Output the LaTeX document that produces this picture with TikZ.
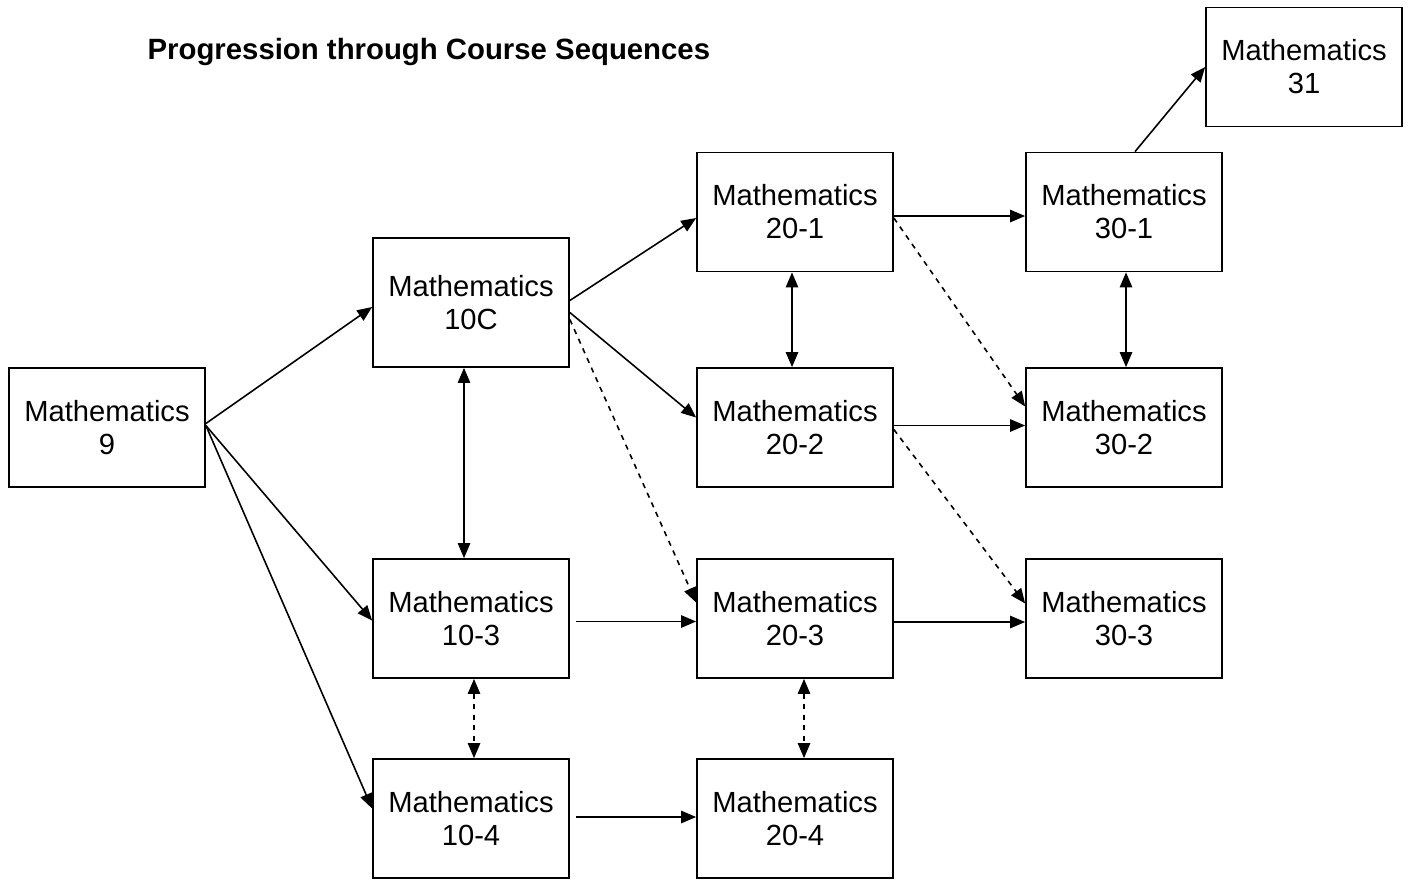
\documentclass[tikz,border=0pt]{standalone}
\usepackage{fontspec}
\setmainfont{Liberation Sans}
\usepackage{tikz}
\usetikzlibrary{positioning, arrows.meta, calc}

\begin{document}
\begin{tikzpicture}[x=0.02cm, y=-0.02cm, ->, >={Triangle[length=8.5pt,width=7pt]}, line width=0.9pt,
    course/.style={draw, rectangle, line width=1pt, minimum width=3.92cm, minimum height=2.38cm, inner sep=0pt, align=center, font=\fontsize{16.6pt}{18.8pt}\selectfont}]
    \useasboundingbox (0,0) rectangle (1409,880);

    % Title
    \node[anchor=base west, font=\fontsize{16.7pt}{18.8pt}\selectfont\bfseries] (title) at (141,59) {Progression through Course Sequences};

    % Courses
    \node[course] (m9) at (107,427.5) {Mathematics\\9};
    \node[course, minimum height=2.58cm] (m10C) at (471,302.5) {Mathematics\\10C};
    \node[course] (m103) at (471,618.5) {Mathematics\\10-3};
    \node[course] (m104) at (471,818.5) {Mathematics\\10-4};
    \node[course] (m201) at (795,212) {Mathematics\\20-1};
    \node[course] (m202) at (795,427.5) {Mathematics\\20-2};
    \node[course] (m203) at (795,618.5) {Mathematics\\20-3};
    \node[course] (m204) at (795,818.5) {Mathematics\\20-4};
    \node[course] (m301) at (1124,212) {Mathematics\\30-1};
    \node[course] (m302) at (1124,427.5) {Mathematics\\30-2};
    \node[course] (m303) at (1124,618.5) {Mathematics\\30-3};
    \node[course] (m31) at (1304,67) {Mathematics\\31};

    % From Mathematics 9
    \draw ($(m9.east)+(0,-4)$) -- ($(m10C.west)+(0,4.5)$);
    \draw ($(m9.east)+(0,-2)$) -- ($(m103.west)+(0,2)$);
    \draw ($(m9.east)+(0,-2)$) -- ($(m104.west)+(0,-10)$);

    % Grade 10 to grade 20
    \draw ($(m10C.east)+(0,-2)$) -- ($(m201.west)+(0,6)$);
    \draw ($(m10C.east)+(0,10)$) -- ($(m202.west)+(0,-10)$);
    \draw[dashed] ($(m10C.east)+(0,17)$) -- ($(m203.west)+(0,-16)$);
    \draw ($(m103.east)+(6,3)$) -- ($(m203.west)+(0,3)$);
    \draw ($(m104.east)+(6,-1.5)$) -- ($(m204.west)+(0,-1.5)$);

    % Transfers within a grade
    \draw[<->] ($(m10C.south)+(-7,0)$) -- ($(m103.north)+(-7,0)$);
    \draw[<->, dashed] ($(m103.south)+(3,0)$) -- ($(m104.north)+(3,0)$);
    \draw[<->] ($(m201.south)+(-3,0)$) -- ($(m202.north)+(-3,0)$);
    \draw[<->, dashed] ($(m203.south)+(9,0)$) -- ($(m204.north)+(9,0)$);
    \draw[<->] ($(m301.south)+(2,0)$) -- ($(m302.north)+(2,0)$);

    % Grade 20 to grade 30
    \draw ($(m201.east)+(0,4)$) -- ($(m301.west)+(0,4)$);
    \draw[dashed] ($(m201.east)+(0,6)$) -- ($(m302.west)+(0,-21)$);
    \draw ($(m202.east)+(0,-2)$) -- ($(m302.west)+(0,-2)$);
    \draw[dashed] ($(m202.east)+(0,2)$) -- ($(m303.west)+(0,-15)$);
    \draw ($(m203.east)+(0,3.5)$) -- ($(m303.west)+(0,3.5)$);

    % On to Mathematics 31
    \draw ($(m301.north)+(11,0)$) -- (m31.west);
\end{tikzpicture}
\end{document}
